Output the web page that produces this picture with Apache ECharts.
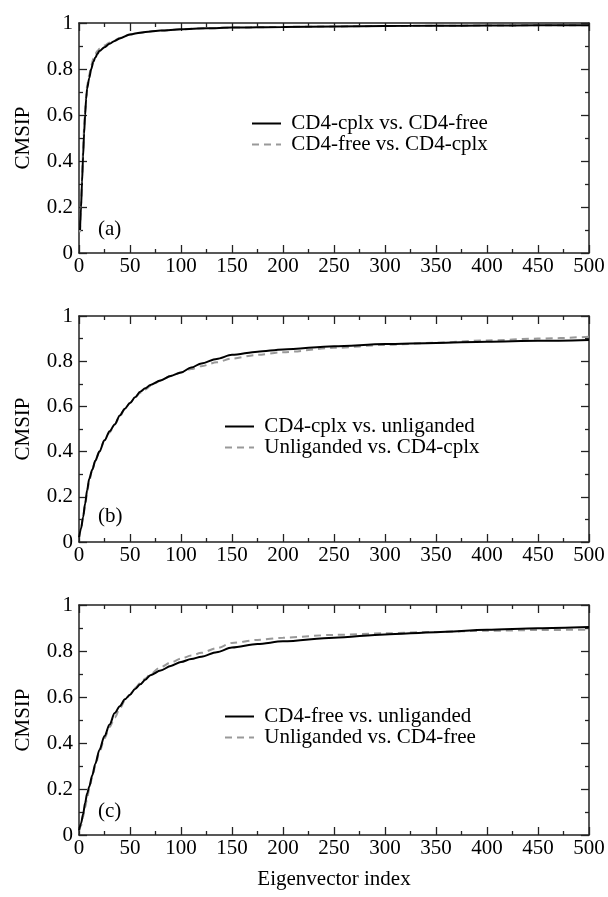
<!DOCTYPE html>
<html>
<head>
<meta charset="utf-8">
<script src="https://cdn.jsdelivr.net/npm/echarts@6/dist/echarts.min.js"></script>
<style>
  html, body { margin: 0; padding: 0; background: #fff; }
  #chart { width: 608px; height: 897px; }
</style>
</head>
<body>
<div id="chart"></div>
<script>
// eigenvector index sampled for panel (a)
var xA = [1, 2, 3, 4, 5, 6, 7, 8, 10, 12, 14, 16, 18, 20, 25, 30, 35, 40, 50, 60, 70, 80, 100, 125, 150, 200, 250, 300, 350, 400, 450, 500];
var solidA = [0.10, 0.20, 0.31, 0.42, 0.52, 0.60, 0.67, 0.715, 0.76, 0.80, 0.83, 0.85, 0.865, 0.878, 0.895, 0.91, 0.922, 0.933, 0.95, 0.958, 0.963, 0.967, 0.973, 0.977, 0.98, 0.983, 0.985, 0.987, 0.988, 0.989, 0.99, 0.99];
var dashA = [0.09, 0.20, 0.32, 0.44, 0.54, 0.62, 0.68, 0.73, 0.775, 0.815, 0.845, 0.865, 0.878, 0.888, 0.902, 0.915, 0.925, 0.935, 0.95, 0.958, 0.963, 0.967, 0.973, 0.977, 0.98, 0.983, 0.985, 0.987, 0.988, 0.989, 0.99, 0.99];

// panels (b) and (c) share the same index samples
var xBC = [0, 2, 4, 6, 8, 10, 13, 16, 20, 25, 30, 35, 40, 45, 50, 55, 60, 65, 70, 80, 90, 100, 110, 120, 135, 150, 175, 200, 250, 300, 350, 400, 450, 500];
var solidB = [0.02, 0.06, 0.11, 0.17, 0.23, 0.28, 0.32, 0.36, 0.40, 0.45, 0.49, 0.52, 0.56, 0.59, 0.615, 0.64, 0.665, 0.68, 0.695, 0.715, 0.735, 0.75, 0.772, 0.79, 0.81, 0.828, 0.842, 0.852, 0.866, 0.876, 0.881, 0.886, 0.89, 0.894];
var dashB = [0.02, 0.06, 0.11, 0.16, 0.22, 0.27, 0.32, 0.36, 0.40, 0.45, 0.485, 0.52, 0.555, 0.59, 0.615, 0.64, 0.66, 0.675, 0.69, 0.715, 0.735, 0.75, 0.765, 0.778, 0.795, 0.812, 0.828, 0.84, 0.859, 0.872, 0.882, 0.892, 0.9, 0.908];
var solidC = [0.02, 0.05, 0.09, 0.14, 0.18, 0.21, 0.26, 0.31, 0.37, 0.43, 0.48, 0.53, 0.56, 0.59, 0.61, 0.635, 0.655, 0.675, 0.695, 0.715, 0.735, 0.752, 0.765, 0.775, 0.795, 0.815, 0.83, 0.842, 0.858, 0.872, 0.882, 0.892, 0.899, 0.904];
var dashC = [0.02, 0.04, 0.08, 0.12, 0.16, 0.20, 0.25, 0.30, 0.36, 0.42, 0.47, 0.51, 0.55, 0.585, 0.61, 0.64, 0.66, 0.68, 0.70, 0.73, 0.75, 0.767, 0.78, 0.792, 0.812, 0.835, 0.848, 0.858, 0.87, 0.877, 0.883, 0.888, 0.891, 0.893];

var panelTags = ["(a)", "(b)", "(c)"];
var solidNames = ["CD4-cplx vs. CD4-free", "CD4-cplx vs. unliganded", "CD4-free vs. unliganded"];
var dashNames = ["CD4-free vs. CD4-cplx", "Unliganded vs. CD4-cplx", "Unliganded vs. CD4-free"];

var FONT = "Liberation Serif";
var AXIS_COLOR = "#222";

function zip(xs, ys) {
  var out = [];
  for (var i = 0; i < xs.length; i++) out.push([xs[i], ys[i]]);
  return out;
}

var panels = [
  { top: 23, height: 230, xs: xA, solid: solidA, dash: dashA, legendLeft: 251, legendTop: 113, tagTop: 219 },
  { top: 316, height: 226, xs: xBC, solid: solidB, dash: dashB, legendLeft: 224, legendTop: 416, tagTop: 506 },
  { top: 605, height: 230, xs: xBC, solid: solidC, dash: dashC, legendLeft: 224, legendTop: 706, tagTop: 801 },
];

var grid = [], xAxis = [], yAxis = [], series = [], legend = [], graphic = [];

panels.forEach(function (p, i) {
  grid.push({ left: 79, right: 19, top: p.top, height: p.height });

  var tick = { show: true, inside: true, length: 8, lineStyle: { color: AXIS_COLOR, width: 1.3 } };
  var minor = { show: true, splitNumber: 2, length: 4, lineStyle: { color: AXIS_COLOR, width: 1.3 } };
  var line = { show: true, onZero: false, lineStyle: { color: AXIS_COLOR, width: 1.5 } };
  var label = { show: true, color: "#000", fontFamily: FONT, fontSize: 21 };

  xAxis.push({
    gridIndex: i, type: "value", position: "bottom", min: 0, max: 500, interval: 50,
    axisLine: line, axisTick: tick, minorTick: minor, splitLine: { show: false },
    axisLabel: Object.assign({ margin: 3 }, label),
    name: i === 2 ? "Eigenvector index" : "", nameLocation: "middle", nameGap: 34,
    nameTextStyle: { color: "#000", fontFamily: FONT, fontSize: 21 },
  });
  xAxis.push({
    gridIndex: i, type: "value", position: "top", min: 0, max: 500, interval: 50,
    axisLine: line, axisTick: tick, minorTick: minor, splitLine: { show: false },
    axisLabel: { show: false },
  });
  yAxis.push({
    gridIndex: i, type: "value", position: "left", min: 0, max: 1, interval: 0.2,
    axisLine: line, axisTick: tick, minorTick: minor, splitLine: { show: false },
    axisLabel: Object.assign({ margin: 6 }, label),
    name: "CMSIP", nameLocation: "middle", nameRotate: 90, nameGap: 45,
    nameTextStyle: { color: "#000", fontFamily: FONT, fontSize: 21 },
  });
  yAxis.push({
    gridIndex: i, type: "value", position: "right", min: 0, max: 1, interval: 0.2,
    axisLine: line, axisTick: tick, minorTick: minor, splitLine: { show: false },
    axisLabel: { show: false },
  });

  series.push({
    name: dashNames[i], type: "line", xAxisIndex: i * 2, yAxisIndex: i * 2,
    data: zip(p.xs, p.dash), symbol: "none", smooth: 0.3, smoothMonotone: "x",
    lineStyle: { color: "#999", width: 2, type: [7, 5] }, itemStyle: { color: "#999" },
  });
  series.push({
    name: solidNames[i], type: "line", xAxisIndex: i * 2, yAxisIndex: i * 2,
    data: zip(p.xs, p.solid), symbol: "none", smooth: 0.3, smoothMonotone: "x",
    lineStyle: { color: "#000", width: 2 }, itemStyle: { color: "#000" },
  });

  legend.push({
    data: [solidNames[i], dashNames[i]],
    orient: "vertical", left: p.legendLeft, top: p.legendTop, padding: 0,
    itemWidth: 29, itemHeight: 14, itemGap: 0, selectedMode: false,
    itemStyle: { opacity: 0 },
    formatter: function (n) { return " " + n; },
    textStyle: { color: "#000", fontFamily: FONT, fontSize: 21 },
  });

  graphic.push({
    type: "text", left: 98, top: p.tagTop,
    style: { text: panelTags[i], fill: "#000", font: "21px " + FONT },
  });
});

var chart = echarts.init(document.getElementById("chart"));
chart.setOption({
  animation: false,
  backgroundColor: "#fff",
  grid: grid,
  xAxis: xAxis,
  yAxis: yAxis,
  legend: legend,
  graphic: graphic,
  series: series,
});
</script>
</body>
</html>
